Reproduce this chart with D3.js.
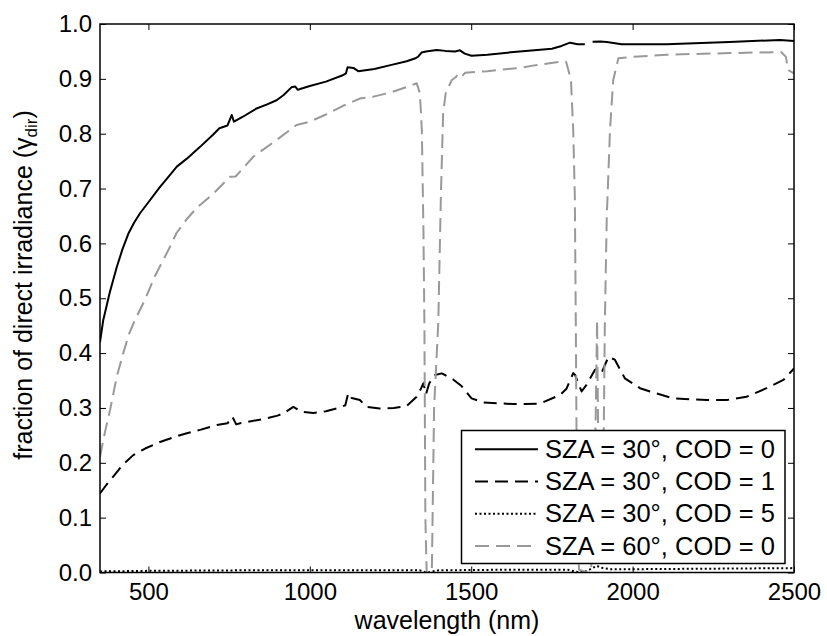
<!DOCTYPE html>
<html>
<head>
<meta charset="utf-8">
<script src="https://cdn.jsdelivr.net/npm/d3@7"></script>
<style>
  html, body { margin: 0; padding: 0; background: #fff; }
  svg { display: block; font-family: "Liberation Sans", Arial, Helvetica, sans-serif; }
</style>
</head>
<body>
<svg id="chart" width="827" height="636"></svg>
<script>
// ---------------- data ----------------
const xTicks = [500, 1000, 1500, 2000, 2500];
const yTicks = [0, 0.1, 0.2, 0.3, 0.4, 0.5, 0.6, 0.7, 0.8, 0.9, 1.0];
const seriesLabels = ["SZA = 30°, COD = 0", "SZA = 30°, COD = 1", "SZA = 30°, COD = 5", "SZA = 60°, COD = 0"];

// SZA = 30°, COD = 0 (null = gap)
const wlA = [350,360,380,402,420,438,456,474,500,536,560,588,620,660,700,720,745,758,765,790,835,866,897,919,943,955,963,970,1000,1050,1100,1112,1117,1135,1150,1200,1250,1300,1325,1335,1346,1360,1393,1420,1450,1465,1480,1501,1550,1650,1750,1780,1806,1830,1852,1864,1876,1900,1920,1966,2105,2300,2457,2500];
const fracA = [0.42,0.46,0.51,0.557,0.59,0.618,0.638,0.655,0.675,0.703,0.72,0.74,0.755,0.776,0.798,0.81,0.815,0.834,0.822,0.83,0.846,0.853,0.861,0.8705,0.8845,0.886,0.88,0.8815,0.887,0.895,0.906,0.91,0.921,0.92,0.914,0.918,0.925,0.932,0.937,0.94,0.948,0.95,0.9526,0.951,0.95,0.952,0.946,0.942,0.944,0.95,0.955,0.96,0.966,0.963,0.963,null,0.9677,0.968,0.967,0.963,0.9633,0.967,0.971,0.969];

// SZA = 30°, COD = 1
const wlB = [350,370,391,420,453,490,536,580,619,660,712,745,760,772,784,866,900,918,949,975,1011,1050,1083,1110,1119,1130,1155,1176,1217,1260,1300,1331,1345,1352,1360,1370,1388,1409,1444,1470,1501,1537,1630,1713,1775,1795,1816,1822,1842,1857,1883,1889,1904,1925,1945,1976,2023,2054,2126,2230,2292,2353,2415,2467,2500];
const fracB = [0.144,0.16,0.175,0.196,0.214,0.226,0.238,0.247,0.254,0.26,0.269,0.272,0.284,0.27,0.272,0.281,0.286,0.29,0.302,0.293,0.291,0.294,0.299,0.305,0.327,0.318,0.3145,0.302,0.299,0.3,0.3035,0.3205,0.336,0.345,0.325,0.345,0.36,0.363,0.352,0.34,0.3175,0.31,0.307,0.308,0.3236,0.335,0.3635,0.36,0.33,0.342,0.369,0.372,0.364,0.393,0.388,0.354,0.336,0.33,0.3175,0.3145,0.3145,0.3205,0.336,0.351,0.372];

// SZA = 30°, COD = 5
const wlC = [350,500,800,1100,1340,1355,1365,1380,1400,1600,1800,1820,1835,1860,1875,1890,1900,1930,2000,2500];
const fracC = [0.002,0.003,0.004,0.004,0.004,0.001,0.0,0.002,0.004,0.005,0.005,0.002,0.0,0.003,0.008,0.012,0.009,0.006,0.006,0.008];

// SZA = 60°, COD = 0
const wlD = [350,365,381,402,422,440,458,489,520,567,587,620,650,700,753,770,825,897,959,1000,1050,1100,1155,1200,1250,1300,1331,1341,1347,1352,1355,1358,1362,1378,1385,1398,1406,1413,1421,1440,1452,1460,1470,1481,1550,1650,1700,1775,1794,1809,1816,1821,1824,1828,1834,1850,1870,1880,1886,1890,1894,1900,1908,1914,1920,1930,1940,1956,2000,2105,2300,2460,2475,2482,2500];
const fracD = [0.211,0.255,0.296,0.357,0.40,0.435,0.46,0.497,0.54,0.594,0.619,0.645,0.665,0.69,0.7216,0.722,0.758,0.7885,0.816,0.822,0.835,0.85,0.864,0.868,0.875,0.885,0.892,0.874,0.807,0.624,0.455,0.1,0.0,0.0,0.3,0.455,0.685,0.837,0.874,0.898,0.903,0.909,0.904,0.911,0.914,0.92,0.925,0.931,0.931,0.898,0.807,0.685,0.455,0.1,0.005,0.002,0.003,0.05,0.3,0.46,0.2,0.02,0.1,0.455,0.649,0.807,0.898,0.9375,0.94,0.944,0.947,0.949,0.94,0.916,0.91];

// ---------------- layout ----------------
const svg = d3.select("#chart");
const L = 100, R = 794, T = 24, B = 572.5;
const x = d3.scaleLinear().domain([350, 2500]).range([L, R]);
const y = d3.scaleLinear().domain([0, 1]).range([B, T]);

svg.append("defs").append("clipPath").attr("id", "clip")
  .append("rect").attr("x", L).attr("y", T - 1).attr("width", R - L).attr("height", B - T + 1);

const series = [
  { wl: wlA, v: fracA, color: "#000", width: 2, dash: null },
  { wl: wlB, v: fracB, color: "#000", width: 2, dash: "13,7" },
  { wl: wlC, v: fracC, color: "#000", width: 2, dash: "2,2.5" },
  { wl: wlD, v: fracD, color: "#999", width: 2, dash: "14,7" }
];

const line = d3.line()
  .defined(d => d[1] !== null)
  .x(d => x(d[0])).y(d => y(d[1]));

const g = svg.append("g").attr("clip-path", "url(#clip)");
series.forEach(s => {
  g.append("path")
    .datum(s.wl.map((w, i) => [w, s.v[i]]))
    .attr("d", line)
    .attr("fill", "none")
    .attr("stroke", s.color)
    .attr("stroke-width", s.width)
    .attr("stroke-dasharray", s.dash)
    .attr("stroke-linejoin", "round");
});

// axes (ticks inside, mirrored on top/right)
const tickLen = 6;
const fontTick = 24;
const axB = d3.axisBottom(x).tickValues(xTicks).tickSizeInner(-tickLen).tickSizeOuter(0).tickPadding(10).tickFormat(d3.format("d"));
const axT = d3.axisTop(x).tickValues(xTicks).tickSizeInner(-tickLen).tickSizeOuter(0).tickFormat("");
const axL = d3.axisLeft(y).tickValues(yTicks).tickSizeInner(-tickLen).tickSizeOuter(0).tickPadding(8).tickFormat(d3.format(".1f"));
const axR = d3.axisRight(y).tickValues(yTicks).tickSizeInner(-tickLen).tickSizeOuter(0).tickFormat("");

function styleAxis(sel) {
  sel.select(".domain").remove();
  sel.selectAll(".tick line").attr("stroke", "#000").attr("stroke-width", 1);
  sel.selectAll(".tick text").attr("fill", "#000").attr("font-size", fontTick)
     .attr("font-family", "'Liberation Sans', Arial, sans-serif");
}
svg.append("g").attr("transform", `translate(0,${B})`).call(axB).call(styleAxis);
svg.append("g").attr("transform", `translate(0,${T})`).call(axT).call(styleAxis);
svg.append("g").attr("transform", `translate(${L},0)`).call(axL).call(styleAxis);
svg.append("g").attr("transform", `translate(${R},0)`).call(axR).call(styleAxis);

// frame
svg.append("rect").attr("x", L).attr("y", T).attr("width", R - L).attr("height", B - T)
  .attr("fill", "none").attr("stroke", "#000").attr("stroke-width", 1.5);

// axis titles
svg.append("text").attr("x", (L + R) / 2).attr("y", 629).attr("text-anchor", "middle")
  .attr("font-size", 25).attr("fill", "#000").text("wavelength (nm)");

const yt = svg.append("text").attr("transform", "translate(32,285) rotate(-90)")
  .attr("text-anchor", "middle").attr("font-size", 25).attr("fill", "#000");
yt.append("tspan").text("fraction of direct irradiance (γ");
yt.append("tspan").attr("font-size", 17).attr("dy", 5).text("dir");
yt.append("tspan").attr("dy", -5).text(")");

// legend
const lg = svg.append("g");
lg.append("rect").attr("x", 461.5).attr("y", 430.5).attr("width", 323.5).attr("height", 133)
  .attr("fill", "#fff").attr("stroke", "#000").attr("stroke-width", 1.5);
const rowY = [449.3, 481.5, 513.7, 546];
series.forEach((s, i) => {
  lg.append("line").attr("x1", 475).attr("x2", 538).attr("y1", rowY[i]).attr("y2", rowY[i])
    .attr("stroke", s.color).attr("stroke-width", s.width).attr("stroke-dasharray", s.dash);
  lg.append("text").attr("x", 545).attr("y", rowY[i] + 8.7).attr("font-size", 25.5)
    .attr("fill", "#000").text(seriesLabels[i]);
});
</script>
</body>
</html>
